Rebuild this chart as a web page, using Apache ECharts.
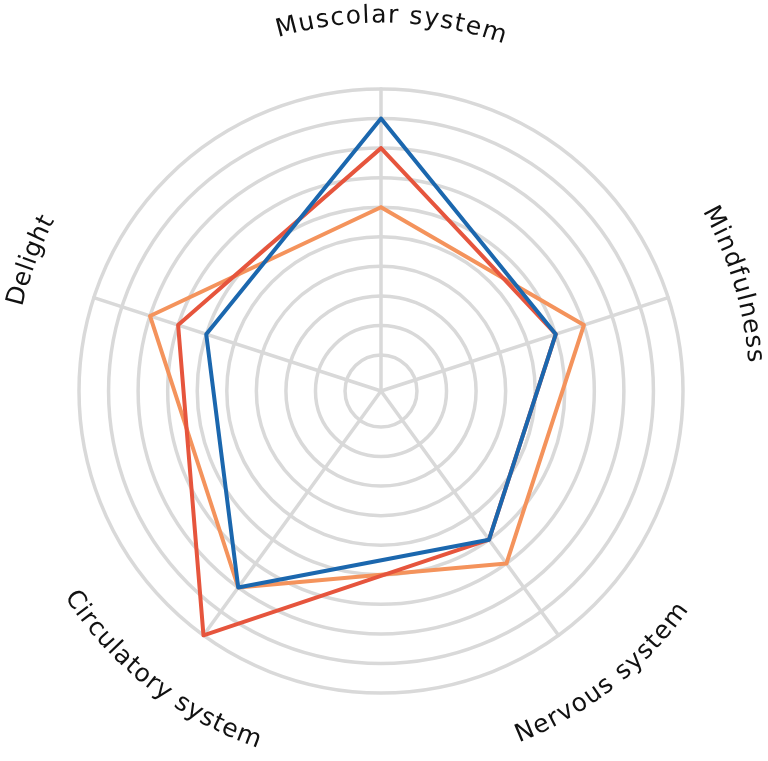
<!DOCTYPE html>
<html>
<head>
<meta charset="utf-8">
<script src="https://cdn.jsdelivr.net/npm/echarts@6/dist/echarts.min.js"></script>
<style>
html,body{margin:0;padding:0;background:#fff;}
#chart{width:768px;height:761px;}
</style>
</head>
<body>
<div id="chart"></div>
<script>
// Indicators in ECharts (counter-clockwise from top) order
const indicators = ['Muscolar system', 'Delight', 'Circulatory system', 'Nervous system', 'Mindfulness'];
const maxValue = 10;
const seriesOrange = [6, 8, 8, 7, 7];
const seriesRed    = [8, 7, 10, 6, 6];
const seriesBlue   = [9, 6, 8, 6, 6];

const colors = { orange: '#f4935c', red: '#e6553d', blue: '#1b67ae', grid: '#d9d9d9' };
const cx = 381, cy = 391, R = 302, R0 = 6.4;
const labelRUpper = 375, labelRLower = 371;
const labelLen = { 'Muscolar system': 233, 'Mindfulness': 162, 'Nervous system': 215, 'Circulatory system': 246, 'Delight': 94 };
const labelShiftDeg = { 'Muscolar system': 1.6, 'Mindfulness': 1.2, 'Nervous system': -2, 'Circulatory system': 2, 'Delight': 2.4 };
const fontSize = 25, fontFamily = 'DejaVu Sans';

const chart = echarts.init(document.getElementById('chart'), null, { renderer: 'canvas' });

const ind = indicators.map(n => ({ name: n, min: 0, max: maxValue }));
const gridColors = ['rgba(0,0,0,0)'].concat(new Array(10).fill(colors.grid));

// curved labels
const ctx = document.createElement('canvas').getContext('2d');
ctx.font = fontSize + 'px "' + fontFamily + '"';
const graphics = [];
indicators.forEach((name, i) => {
  let theta = (-i * 72 + labelShiftDeg[name]) * Math.PI / 180;
  theta = ((theta % (2 * Math.PI)) + 2 * Math.PI) % (2 * Math.PI);
  const upper = Math.cos(theta) >= 0;
  const dir = upper ? 1 : -1;
  const rr = upper ? labelRUpper : labelRLower;
  const chars = name.split('');
  const ws = chars.map(c => ctx.measureText(c).width);
  const natural = ws.reduce((a, b) => a + b, 0);
  const sp = (labelLen[name] - natural) / (chars.length - 1);
  const total = natural + sp * (chars.length - 1);
  let acc = 0;
  chars.forEach((c, k) => {
    const s = acc + ws[k] / 2 - total / 2;
    acc += ws[k] + sp;
    const phi = theta + dir * s / rr;
    const x = cx + rr * Math.sin(phi);
    const y = cy - rr * Math.cos(phi);
    const rot = upper ? -phi : Math.PI - phi;
    graphics.push({
      type: 'text', x: x, y: y, rotation: rot,
      style: { text: c, fontSize: fontSize, fontFamily: fontFamily, fill: '#111', align: 'center', verticalAlign: 'middle' }
    });
  });
});

const mk = (name, vals, col) => ({
  type: 'radar', radarIndex: 0, silent: true, name: name,
  symbol: 'none',
  lineStyle: { color: col, width: 4, join: 'round', cap: 'round' },
  itemStyle: { color: col },
  data: [{ value: vals, name: name }]
});

chart.setOption({
  animation: false,
  backgroundColor: '#fff',
  radar: [
    {
      center: [cx, cy], radius: [R0, R], shape: 'circle', splitNumber: 10,
      indicator: ind,
      axisName: { show: false },
      axisLine: { show: false },
      axisTick: { show: false }, axisLabel: { show: false },
      splitArea: { show: false },
      splitLine: { show: true, lineStyle: { color: gridColors, width: 3.5 } }
    },
    {
      center: [cx, cy], radius: R, shape: 'circle', splitNumber: 10,
      indicator: ind,
      axisName: { show: false },
      axisLine: { show: true, lineStyle: { color: colors.grid, width: 3.5 } },
      axisTick: { show: false }, axisLabel: { show: false },
      splitArea: { show: false },
      splitLine: { show: false }
    }
  ],
  series: [
    mk('A', seriesOrange, colors.orange),
    mk('B', seriesRed, colors.red),
    mk('C', seriesBlue, colors.blue)
  ],
  graphic: { elements: graphics }
});
</script>
</body>
</html>
